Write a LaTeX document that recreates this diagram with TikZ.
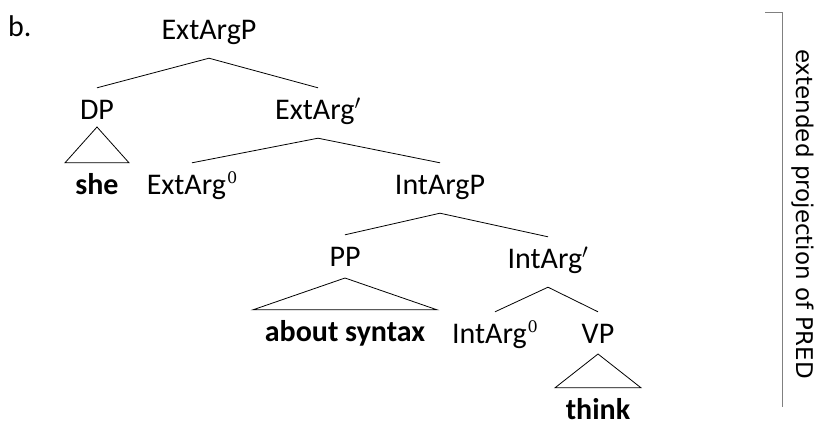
\documentclass[tikz,border=0pt]{standalone}
\usepackage{fontspec}
\setmainfont{Carlito}
\newfontfamily\sidefont{DejaVu Sans}
\newfontfamily\supfont{DejaVu Serif}
\usetikzlibrary{calc}
% head-level superscript zero
\newcommand{\headzero}{\kern1pt\raisebox{10.5pt}{\supfont\fontsize{16}{16}\selectfont 0}}
\begin{document}
\begin{tikzpicture}[x=1pt,y=-1pt,
  lbl/.style={inner xsep=0pt,inner ysep=13pt,text height=18pt,text depth=6pt,
    font=\fontsize{30}{36}\selectfont},
  edge/.style={line width=0.8pt,black},
  bracket/.style={line width=1pt,gray}]
\useasboundingbox (0,0) rectangle (821,439);

% panel label
\node[lbl,anchor=west] (b) at (8,30) {b.};

% tree labels
\node[lbl] (extargp) at (209,33) {ExtArgP};
\node[lbl] (dp) at (97,113) {DP};
\node[lbl] (extargbar) at (318,113) {ExtArg$'$};
\node[lbl] (she) at (97,188) {\textbf{she}};
\node[lbl] (extarg0) at (192,188) {ExtArg\headzero};
\node[lbl] (intargp) at (440,188) {IntArgP};
\node[lbl] (pp) at (345,260) {PP};
\node[lbl] (intargbar) at (548,262) {IntArg$'$};
\node[lbl] (about) at (345,335) {\textbf{about syntax}};
\node[lbl] (intarg0) at (495,337) {IntArg\headzero};
\node[lbl] (vp) at (598,337) {VP};
\node[lbl] (think) at (598,413) {\textbf{think}};

% branches
\draw[edge] (extargp.south) -- (dp.north);
\draw[edge] (extargp.south) -- (extargbar.north);
\draw[edge] (extargbar.south) -- (extarg0.north);
\draw[edge] (extargbar.south) -- (intargp.north);
\draw[edge] (intargp.south) -- (pp.north);
\draw[edge] (intargp.south) -- (intargbar.north);
\draw[edge] (intargbar.south) -- (intarg0.north);
\draw[edge] (intargbar.south) -- (vp.north);

% triangles over unanalysed constituents
\draw[edge] ($(dp)+(0,14)$) -- ($(she.north)+(-32,0)$) -- ($(she.north)+(32,0)$) -- cycle;
\draw[edge] ($(pp)+(0,18)$) -- ($(about.north)+(-92,0)$) -- ($(about.north)+(92,0)$) -- cycle;
\draw[edge] ($(vp)+(0,17)$) -- ($(think.north)+(-43,0)$) -- ($(think.north)+(43,0)$) -- cycle;

% bracket with side label
\coordinate (btop) at (765,12);
\coordinate (bcorner) at (782,12);
\coordinate (bbot) at (782,407);
\draw[bracket] (btop) -- (bcorner) -- (bbot);
\node[rotate=-90,font=\sidefont\fontsize{23}{27}\selectfont,inner sep=0pt] (side) at (803,214) {extended projection of PRED};
\end{tikzpicture}
\end{document}
